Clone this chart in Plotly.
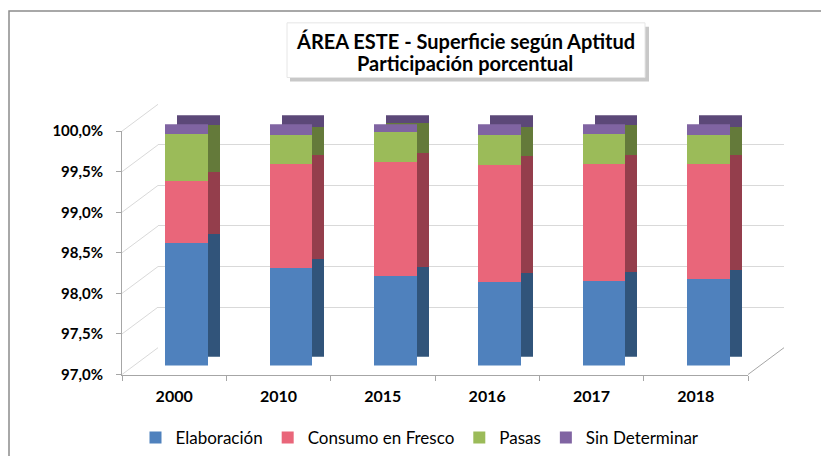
import plotly.graph_objects as go

# ---------------- data ----------------
years = ["2000", "2010", "2015", "2016", "2017", "2018"]
elaboracion = [98.52, 98.21, 98.11, 98.04, 98.05, 98.08]
consumo_fresco = [0.78, 1.29, 1.42, 1.45, 1.46, 1.42]
pasas = [0.58, 0.36, 0.37, 0.37, 0.37, 0.36]
sin_determinar = [0.12, 0.14, 0.10, 0.14, 0.12, 0.14]
series_names = ["Elaboración", "Consumo en Fresco", "Pasas", "Sin Determinar"]
y_tick_vals = [97.0, 97.5, 98.0, 98.5, 99.0, 99.5, 100.0]
y_tick_text = ["97,0%", "97,5%", "98,0%", "98,5%", "99,0%", "99,5%", "100,0%"]
title_line1 = "ÁREA ESTE - Superficie según Aptitud"
title_line2 = "Participación porcentual"

# ---------------- style ----------------
front_colors = ["#4F81BD", "#E9667A", "#9BBB59", "#8064A2"]
side_colors = ["#31547A", "#943E4C", "#647A3A", "#5C4878"]
FONT = "Lato"
W, H = 821, 456
Y_RANGE = [97.0, 100.0]

def px(x):
    return x / W

def py(y):
    return 1 - y / H

# pseudo-3D geometry (pixels)
FRONT_X = (122, 748)       # front plane (axes)
FRONT_Y = (377, 132)       # y of 97% and 100% on the front plane
WALL_SHIFT = (36, -27)     # back wall relative to front plane
BAR_SHIFT = (12.5, -9)     # bar front faces relative to front plane
BAR_DEPTH = (12, -9)       # bar side/top faces relative to bar fronts
BAR_TOP_Y = 125            # 100% level for bar front faces
BAR_WIDTH = 0.412

def plane(shift_x, shift_y, top_y=None):
    x0, x1 = FRONT_X[0] + shift_x, FRONT_X[1] + shift_x
    yb = FRONT_Y[0] + shift_y
    yt = (FRONT_Y[1] if top_y is None else top_y) + shift_y
    return [px(x0), px(x1)], [py(yb), py(yt)]

wall_xd, wall_yd = plane(*WALL_SHIFT)
front_xd, front_yd = plane(0, 0)
bar_xd, bar_yd = plane(BAR_SHIFT[0], BAR_SHIFT[1], BAR_TOP_Y - BAR_SHIFT[1])
side_xd, side_yd = plane(BAR_SHIFT[0] + BAR_DEPTH[0], BAR_SHIFT[1] + BAR_DEPTH[1],
                         BAR_TOP_Y - BAR_SHIFT[1])

series = [elaboracion, consumo_fresco, pasas, sin_determinar]

fig = go.Figure()

# back wall (gridlines only)
fig.add_trace(go.Scatter(x=[0.5], y=[98.5], mode="markers", marker=dict(opacity=0),
                         showlegend=False, hoverinfo="skip", xaxis="x", yaxis="y"))

# bar side/top faces
for name, vals, col in zip(series_names, series, side_colors):
    fig.add_trace(go.Bar(x=years, y=vals, name=name, marker=dict(color=col, line=dict(width=0)),
                         width=BAR_WIDTH, showlegend=False, hoverinfo="skip",
                         xaxis="x2", yaxis="y2"))

# bar front faces
for name, vals, col in zip(series_names, series, front_colors):
    fig.add_trace(go.Bar(x=years, y=vals, name=name, marker=dict(color=col, line=dict(width=0)),
                         width=BAR_WIDTH, xaxis="x3", yaxis="y3"))

# front axes
fig.add_trace(go.Scatter(x=years, y=elaboracion, mode="markers", marker=dict(opacity=0),
                         showlegend=False, hoverinfo="skip", xaxis="x4", yaxis="y4"))

hidden_cat = dict(type="category", categoryarray=years, range=[-0.5, len(years) - 0.5],
                  visible=False, fixedrange=True)
hidden_y = dict(range=Y_RANGE, visible=False, fixedrange=True)

# shapes: frame, title box, slanted wall/floor lines
shapes = []
shapes.append(dict(type="rect", xref="paper", yref="paper", x0=px(9), y0=py(11),
                   x1=px(W + 20), y1=py(H + 20), line=dict(color="#8C8C8C", width=1.5),
                   fillcolor="rgba(0,0,0,0)", layer="below"))
shapes.append(dict(type="rect", xref="paper", yref="paper", x0=px(290), y0=py(27),
                   x1=px(649), y1=py(82), line=dict(width=0), fillcolor="#C8C8C8",
                   layer="below"))
shapes.append(dict(type="rect", xref="paper", yref="paper", x0=px(287), y0=py(23),
                   x1=px(645), y1=py(78), line=dict(color="#E6E6E6", width=1),
                   fillcolor="#FFFFFF", layer="below"))

def y_front(v):
    return FRONT_Y[0] + (v - Y_RANGE[0]) * (FRONT_Y[1] - FRONT_Y[0]) / (Y_RANGE[1] - Y_RANGE[0])

for v in y_tick_vals:
    yf = y_front(v)
    shapes.append(dict(type="line", xref="paper", yref="paper",
                       x0=px(FRONT_X[0]), y0=py(yf),
                       x1=px(FRONT_X[0] + WALL_SHIFT[0]), y1=py(yf + WALL_SHIFT[1]),
                       line=dict(color="#D9D9D9", width=1), layer="below"))
yf0 = y_front(Y_RANGE[0])
shapes.append(dict(type="line", xref="paper", yref="paper",
                   x0=px(FRONT_X[1]), y0=py(yf0),
                   x1=px(FRONT_X[1] + WALL_SHIFT[0]), y1=py(yf0 + WALL_SHIFT[1]),
                   line=dict(color="#A6A6A6", width=1), layer="below"))

title_font = dict(family=FONT, size=20, color="#000000", weight="bold")
annotations = [
    dict(text=title_line1, xref="paper", yref="paper", x=px(465), y=py(41),
         xanchor="center", yanchor="middle", showarrow=False, font=title_font),
    dict(text=title_line2, xref="paper", yref="paper", x=px(465), y=py(63),
         xanchor="center", yanchor="middle", showarrow=False, font=title_font),
]

fig.update_layout(
    width=W, height=H,
    margin=dict(l=0, r=0, t=0, b=0),
    paper_bgcolor="#FFFFFF",
    plot_bgcolor="rgba(0,0,0,0)",
    barmode="stack",
    showlegend=True,
    legend=dict(orientation="h", x=px(420), xanchor="center", y=py(441), yanchor="middle",
                font=dict(family=FONT, size=17, color="#000000"), traceorder="normal",
                bgcolor="rgba(0,0,0,0)"),
    xaxis=dict(domain=wall_xd, range=[0, 1], visible=False, fixedrange=True),
    yaxis=dict(domain=wall_yd, range=Y_RANGE, tickvals=y_tick_vals, showgrid=True,
               gridcolor="#D9D9D9", gridwidth=1, showticklabels=False, zeroline=False,
               showline=False, ticks="", fixedrange=True),
    xaxis2=dict(domain=side_xd, anchor="y2", **hidden_cat),
    yaxis2=dict(domain=side_yd, anchor="x2", **hidden_y),
    xaxis3=dict(domain=bar_xd, anchor="y3", **hidden_cat),
    yaxis3=dict(domain=bar_yd, anchor="x3", **hidden_y),
    xaxis4=dict(domain=front_xd, anchor="y4", type="category", categoryarray=years,
                range=[-0.5, len(years) - 0.5], showline=True, linecolor="#A6A6A6",
                linewidth=1, ticks="outside", ticklen=5, tickcolor="#A6A6A6",
                tickson="boundaries", showgrid=False, zeroline=False, automargin=False,
                tickfont=dict(family=FONT, size=16, color="#000000", weight="bold"),
                ticklabelstandoff=7, fixedrange=True),
    yaxis4=dict(domain=front_yd, anchor="x4", range=Y_RANGE, tickvals=y_tick_vals,
                ticktext=y_tick_text, showline=True, linecolor="#A6A6A6", linewidth=1,
                ticks="outside", ticklen=5, tickcolor="#A6A6A6", showgrid=False,
                zeroline=False, automargin=False,
                tickfont=dict(family=FONT, size=15, color="#000000", weight="bold"),
                ticklabelstandoff=10, fixedrange=True),
    shapes=shapes,
    annotations=annotations,
)

fig.write_html("out.html", config={"displayModeBar": False},
               post_script="document.body.style.margin='0px';document.body.style.overflow='hidden';")
